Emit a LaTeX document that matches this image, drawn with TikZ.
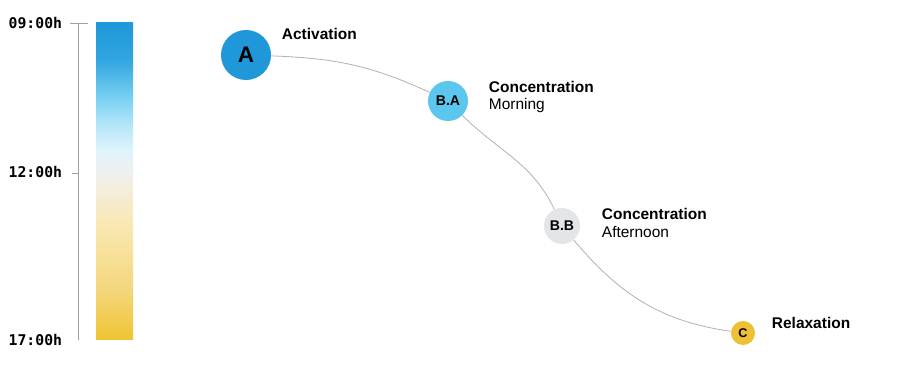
\documentclass[tikz,border=0pt]{standalone}
\usepackage{fontspec}
\setmainfont{Liberation Sans}
\newfontfamily\clockfont{DejaVu Sans Mono}
\usepackage{tikz}
\usetikzlibrary{positioning, shapes}
\usepackage{xcolor}

\definecolor{phaseA}{HTML}{1F97D9}
\definecolor{phaseBA}{HTML}{5BC7EF}
\definecolor{phaseBB}{HTML}{E4E5E8}
\definecolor{phaseC}{HTML}{EEC134}
\definecolor{trackgray}{HTML}{B4B4B4}
\definecolor{axisgray}{HTML}{A0A0A0}

% day bar: yellow at the bottom, blue at the top
\pgfdeclareverticalshading{daybar}{100bp}{%
  color(0bp)=(phaseC);
  color(25bp)=(phaseC!95!yellow);
  color(32.9bp)=(phaseC!65!white);
  color(44bp)=(phaseC!35!white);
  color(51.5bp)=(gray!12!white);
  color(55bp)=(phaseBA!20!white);
  color(58.9bp)=(phaseBA!45!white);
  color(62.9bp)=(phaseBA!80!white);
  color(69.2bp)=(phaseA!70!phaseBA);
  color(75bp)=(phaseA);
  color(100bp)=(phaseA)}

\begin{document}
\begin{tikzpicture}[x=0.025cm, y=-0.025cm,
    phase/.style={circle, inner sep=0pt, font=\bfseries},
    clock/.style={anchor=east, font=\clockfont\bfseries\fontsize{10.5}{12}\selectfont},
    caption/.style={anchor=west, align=left, font=\fontsize{11}{12.5}\selectfont},
    track/.style={draw=trackgray, line width=0.6pt}]
        \useasboundingbox (0, 0) rectangle (919, 372);

        % Time axis
        \coordinate (axtop) at (78, 23);
        \coordinate (axbot) at (78, 340);
        \draw[axisgray, line width=0.5pt] (axtop) -- (axbot);
        \draw[axisgray, line width=0.5pt] (70, 23) -- (88, 23);   % top tick
        \draw[axisgray, line width=0.5pt] (72, 173) -- (78, 173); % noon tick

        % Time labels
        \node[clock] (t0900) at (67, 23) {09:00h};
        \node[clock] (t1200) at (67, 172) {12:00h};
        \node[clock] (t1700) at (67, 340) {17:00h};

        % Colour bar
        \shade[shading=daybar] (96, 23) rectangle (133, 340);

        % Phases
        \node[phase, fill=phaseA, minimum size=1.25cm, font=\bfseries\fontsize{16}{18}\selectfont] (A) at (246, 55) {A};
        \node[phase, fill=phaseBA, minimum size=1cm, font=\bfseries\fontsize{10}{12}\selectfont] (BA) at (448, 101) {B.A};
        \node[phase, fill=phaseBB, minimum size=0.9cm, font=\bfseries\fontsize{10}{12}\selectfont] (BB) at (562, 226) {B.B};
        \node[phase, fill=phaseC, minimum size=0.6cm, font=\bfseries\fontsize{9}{11}\selectfont] (C) at (743, 333) {C};

        % Labels
        \node[caption, font=\bfseries\fontsize{11}{12.5}\selectfont] (lA) at (277, 34) {Activation};
        \node[caption] (lBA) at (484, 97) {\textbf{Concentration}\\Morning};
        \node[caption] (lBB) at (597, 223) {\textbf{Concentration}\\Afternoon};
        \node[caption, font=\bfseries\fontsize{11}{12.5}\selectfont] (lC) at (767, 323) {Relaxation};

        % Track between the phases
        \draw[track] (A) to[out=-2, in=155] (BA);
        \draw[track] (BA) to[out=-45, in=115] (BB);
        \draw[track] (BB) to[out=-50, in=172] (C);
    \end{tikzpicture}
\end{document}
